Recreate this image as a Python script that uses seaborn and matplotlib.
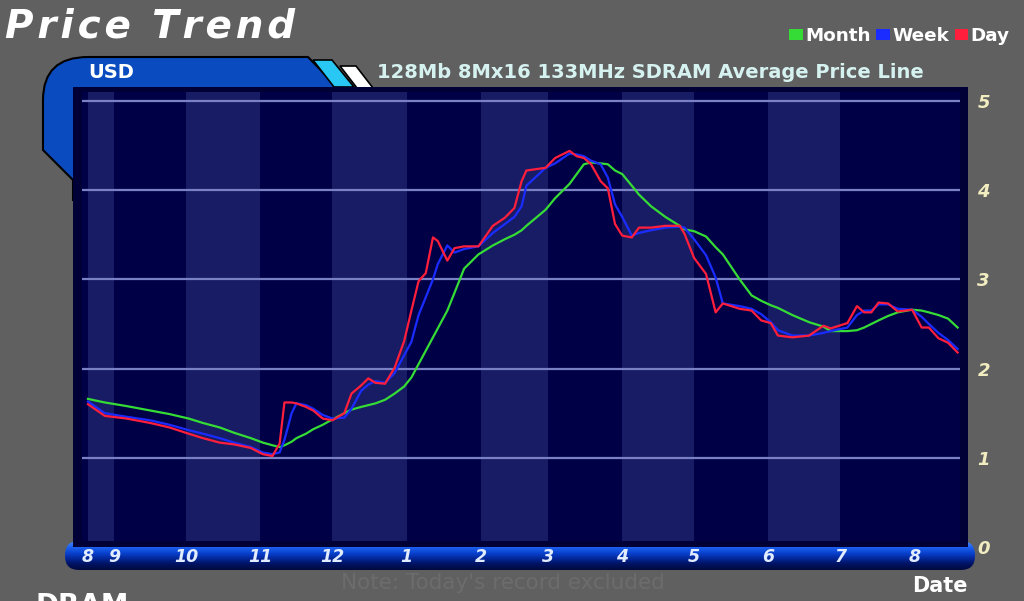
import matplotlib
matplotlib.use("Agg")
import matplotlib.pyplot as plt
import numpy as np
import pandas as pd
import seaborn as sns
from matplotlib.patches import Polygon, Rectangle, FancyBboxPatch, PathPatch, Patch
from matplotlib.path import Path
from matplotlib.colors import LinearSegmentedColormap

# price samples (USD)
dates = [
    "2001-08-21", "2001-08-28", "2001-09-06", "2001-09-16", "2001-09-24",
    "2001-10-02", "2001-10-08", "2001-10-15", "2001-10-21", "2001-10-28",
    "2001-11-02", "2001-11-06", "2001-11-09", "2001-11-11", "2001-11-14",
    "2001-11-16", "2001-11-20", "2001-11-23", "2001-11-27", "2001-12-01",
    "2001-12-06", "2001-12-09", "2001-12-13", "2001-12-16", "2001-12-19",
    "2001-12-23", "2001-12-27", "2001-12-31", "2002-01-03", "2002-01-06",
    "2002-01-09", "2002-01-12", "2002-01-14", "2002-01-18", "2002-01-21",
    "2002-01-25", "2002-01-31", "2002-02-06", "2002-02-11", "2002-02-15",
    "2002-02-18", "2002-02-20", "2002-02-28", "2002-03-04", "2002-03-10",
    "2002-03-13", "2002-03-16", "2002-03-19", "2002-03-23", "2002-03-26",
    "2002-03-29", "2002-04-01", "2002-04-05", "2002-04-08", "2002-04-13",
    "2002-04-19", "2002-04-25", "2002-04-27", "2002-05-01", "2002-05-06",
    "2002-05-10", "2002-05-13", "2002-05-20", "2002-05-25", "2002-05-29",
    "2002-06-02", "2002-06-05", "2002-06-11", "2002-06-18", "2002-06-24",
    "2002-06-27", "2002-07-04", "2002-07-08", "2002-07-11", "2002-07-14",
    "2002-07-17", "2002-07-21", "2002-07-25", "2002-07-31", "2002-08-04",
    "2002-08-07", "2002-08-11", "2002-08-15", "2002-08-19",
]
month_avg = [
    1.66, 1.62, 1.58, 1.53, 1.49,
    1.44, 1.39, 1.34, 1.28, 1.22,
    1.17, 1.14, 1.12, 1.14, 1.18,
    1.22, 1.27, 1.32, 1.37, 1.43,
    1.50, 1.54, 1.57, 1.59, 1.61,
    1.65, 1.72, 1.80, 1.90, 2.05,
    2.20, 2.35, 2.45, 2.65, 2.85,
    3.12, 3.28, 3.38, 3.45, 3.50,
    3.55, 3.60, 3.78, 3.91, 4.07,
    4.18, 4.29, 4.31, 4.30, 4.29,
    4.22, 4.18, 4.05, 3.95, 3.82,
    3.70, 3.60, 3.56, 3.54, 3.48,
    3.36, 3.28, 3.00, 2.82, 2.76,
    2.71, 2.68, 2.60, 2.52, 2.47,
    2.42, 2.42, 2.43, 2.46, 2.50,
    2.54, 2.59, 2.63, 2.66, 2.65,
    2.63, 2.60, 2.56, 2.46,
]
week_avg = [
    1.63, 1.50, 1.46, 1.42, 1.37,
    1.31, 1.27, 1.22, 1.17, 1.12,
    1.06, 1.04, 1.06, 1.20, 1.50,
    1.61, 1.59, 1.55, 1.48, 1.44,
    1.45, 1.55, 1.75, 1.82, 1.86,
    1.84, 1.95, 2.15, 2.30, 2.60,
    2.80, 3.00, 3.17, 3.38, 3.30,
    3.34, 3.37, 3.52, 3.62, 3.70,
    3.82, 4.05, 4.25, 4.30, 4.41,
    4.40, 4.38, 4.33, 4.29, 4.14,
    3.84, 3.70, 3.49, 3.52, 3.55,
    3.58, 3.59, 3.58, 3.45, 3.27,
    3.02, 2.73, 2.70, 2.67, 2.61,
    2.52, 2.43, 2.37, 2.37, 2.40,
    2.42, 2.46, 2.60, 2.65, 2.65,
    2.72, 2.72, 2.67, 2.66, 2.58,
    2.50, 2.40, 2.32, 2.22,
]
day_avg = [
    1.60, 1.47, 1.44, 1.39, 1.34,
    1.27, 1.22, 1.17, 1.15, 1.11,
    1.04, 1.02, 1.16, 1.62, 1.62,
    1.61, 1.57, 1.53, 1.44, 1.42,
    1.50, 1.72, 1.81, 1.89, 1.84,
    1.83, 2.01, 2.31, 2.65, 2.98,
    3.07, 3.47, 3.43, 3.21, 3.35,
    3.37, 3.37, 3.60, 3.69, 3.80,
    4.10, 4.22, 4.25, 4.36, 4.44,
    4.38, 4.36, 4.29, 4.10, 4.02,
    3.62, 3.49, 3.47, 3.58, 3.58,
    3.60, 3.60, 3.51, 3.24, 3.06,
    2.63, 2.73, 2.67, 2.65, 2.54,
    2.51, 2.37, 2.35, 2.37, 2.48,
    2.45, 2.51, 2.70, 2.63, 2.63,
    2.74, 2.73, 2.64, 2.66, 2.46,
    2.46, 2.34, 2.29, 2.18,
]

series_names = ["Month", "Week", "Day"]
series_colors = ["#35dc35", "#1a2cff", "#ff1e3c"]
tick_dates = [
    "2001-08-21", "2001-09-01", "2001-10-01", "2001-11-01", "2001-12-01",
    "2002-01-01", "2002-02-01", "2002-03-01", "2002-04-01", "2002-05-01",
    "2002-06-01", "2002-07-01", "2002-08-01",
]
tick_labels = ["8", "9", "10", "11", "12", "1", "2", "3", "4", "5", "6", "7", "8"]
y_ticks = [0, 1, 2, 3, 4, 5]

df = pd.DataFrame({"date": pd.to_datetime(dates), "Month": month_avg,
                   "Week": week_avg, "Day": day_avg})
long_df = df.melt(id_vars="date", var_name="series", value_name="price")

W, H = 1024, 601
fig = plt.figure(figsize=(W / 100, H / 100), dpi=100, facecolor="#5f605f")

# decoration layer in pixel coordinates
bg = fig.add_axes([0, 0, 1, 1], zorder=0)
bg.set_xlim(0, W)
bg.set_ylim(H, 0)
bg.axis("off")

# USD tab with rounded corner
tab = Path(
    [(43, 150), (43, 100), (43, 57), (88, 57), (308, 57), (338, 88),
     (338, 200), (73, 200), (73, 180), (43, 150)],
    [Path.MOVETO, Path.LINETO, Path.CURVE3, Path.CURVE3, Path.LINETO,
     Path.LINETO, Path.LINETO, Path.LINETO, Path.LINETO, Path.CLOSEPOLY],
)
bg.add_patch(PathPatch(tab, facecolor="#0a4cc0", edgecolor="black", lw=1.5))
bg.add_patch(Polygon([(313, 60), (332, 60), (354, 87), (334, 87)],
                     facecolor="#29c8f4", edgecolor="black", lw=1.2))
bg.add_patch(Polygon([(340, 66), (356, 66), (373, 88), (357, 88)],
                     facecolor="white", edgecolor="black", lw=1.2))
bg.text(88, 72, "USD", color="white", fontsize=14, fontweight="bold",
        va="center", ha="left")

# chart frame and plot face
bg.add_patch(Rectangle((73, 87), 895, 460, facecolor="#000036", edgecolor="none"))
bg.add_patch(Rectangle((82, 92), 878, 449, facecolor="#000046", edgecolor="none"))

# rounded gradient date bar
grad_cmap = LinearSegmentedColormap.from_list(
    "bar", ["#4a8cff", "#1e62f2", "#0a44d2", "#03279a", "#011260", "#000a40"])
grad = np.linspace(0, 1, 64).reshape(-1, 1)
im = bg.imshow(grad, cmap=grad_cmap, extent=(65, 975, 570, 541), aspect="auto",
               interpolation="bilinear")
bar_clip = FancyBboxPatch((65, 541), 910, 29, boxstyle="round,pad=0,rounding_size=14",
                          transform=bg.transData, facecolor="none")
im.set_clip_path(bar_clip)
bg.set_xlim(0, W)
bg.set_ylim(H, 0)

# titles and labels
bg.text(5, 26, "P\u200ar\u200ai\u200ac\u200ae\u2009 T\u200ar\u200ae\u200an\u200ad",
        color="white", fontsize=28, fontweight="bold", fontstyle="italic",
        va="center", ha="left")
bg.text(377, 73, "128Mb 8Mx16 133MHz SDRAM Average Price Line", color="#d6f2f0",
        fontsize=14, fontweight="bold", va="center", ha="left")
bg.text(940, 586, "Date", color="white", fontsize=15, fontweight="bold",
        va="center", ha="center")
bg.text(503, 583, "Note: Today's record excluded", color="#6b6c6b",
        fontsize=15.5, va="center", ha="center")
bg.text(35, 606, "DRAM", color="white", fontsize=20, fontweight="bold",
        va="center", ha="left")

# main chart
ax = fig.add_axes([82 / W, (H - 547) / H, 878 / W, 455 / H], zorder=1)
ax.set_facecolor("none")
xmin, xmax = pd.Timestamp("2001-08-18 12:00"), pd.Timestamp("2002-08-20")
month_starts = pd.to_datetime(tick_dates[1:])
band_edges = [pd.Timestamp(tick_dates[0])] + list(month_starts)
for i in range(0, len(band_edges) - 2, 2):
    ax.axvspan(band_edges[i], band_edges[i + 1], ymin=0.013, ymax=1,
               color="#181c64", lw=0, zorder=0)
for yv in y_ticks[1:]:
    ax.axhline(yv, color="#7a80c4", lw=1.6, zorder=1)

sns.lineplot(data=long_df, x="date", y="price", hue="series",
             hue_order=series_names, palette=series_colors, linewidth=1.6,
             ax=ax, legend=False, zorder=3)

ax.set_xlim(xmin, xmax)
ax.set_ylim(0, 5.1)
ax.set_xlabel("")
ax.set_ylabel("")
for s in ax.spines.values():
    s.set_visible(False)
ax.set_xticks(pd.to_datetime(tick_dates))
ax.set_xticklabels(tick_labels)
ax.tick_params(axis="x", length=0, pad=1, labelsize=12.5, labelcolor="#e2ecff")
for t in ax.get_xticklabels():
    t.set_fontweight("bold")
    t.set_fontstyle("italic")
ax.yaxis.tick_right()
ax.set_yticks(y_ticks)
ax.set_yticklabels([str(v) for v in y_ticks])
ax.tick_params(axis="y", length=0, pad=17, labelsize=13, labelcolor="#f2edc0")
for t in ax.get_yticklabels():
    t.set_fontweight("bold")
    t.set_fontstyle("italic")
    t.set_ha("center")

# legend
handles = [Patch(facecolor=c, edgecolor="none") for c in series_colors]
fig.legend(handles, series_names, loc="upper right", bbox_to_anchor=(1017 / W, 1 - 20 / H),
           ncol=3, frameon=False, handlelength=0.75, handleheight=0.55,
           handletextpad=0.12, columnspacing=0.3, borderaxespad=0,
           prop={"weight": "bold", "size": 13.2}, labelcolor="white")

fig.savefig("out.png", dpi=100, facecolor=fig.get_facecolor())
